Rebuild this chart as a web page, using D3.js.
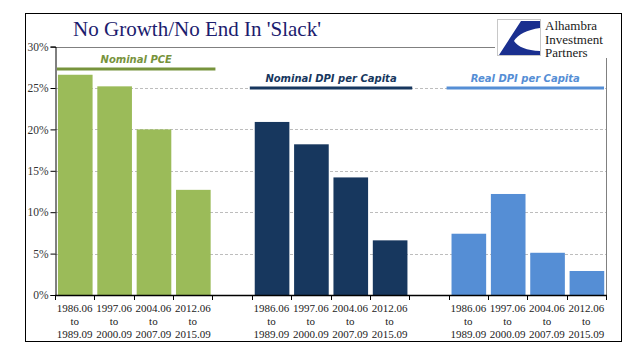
<!DOCTYPE html>
<html><head><meta charset="utf-8">
<script src="https://cdn.jsdelivr.net/npm/d3@7"></script>
<style>body{margin:0;background:#fff}svg{display:block}</style>
</head><body>
<svg id="c" width="641" height="358"></svg>
<script>
// ---- data ----
const categories = ["g1","g2","g3","g4","s1","n1","n2","n3","n4","s2","r1","r2","r3","r4"];
const periodStart = ["1986.06","1997.06","2004.06","2012.06"];
const periodEnd   = ["1989.09","2000.09","2007.09","2015.09"];
const nominalPCE = [26.6, 25.2, 20.0, 12.7];
const nominalDPI = [20.9, 18.2, 14.2, 6.6];
const realDPI    = [7.4, 12.2, 5.1, 2.9];
const seriesNames = ["Nominal PCE","Nominal DPI per Capita","Real DPI per Capita"];
const seriesLabelLevel = [27.3, 25, 25];
const yTicks = [0,5,10,15,20,25,30];
const title = "No Growth/No End In 'Slack'";

const colors = ["#9bbb59","#17375e","#558ed5"];
const labelColors = ["#77933c","#17375e","#558ed5"];
const groups = [
  {cats:["g1","g2","g3","g4"], vals:nominalPCE},
  {cats:["n1","n2","n3","n4"], vals:nominalDPI},
  {cats:["r1","r2","r3","r4"], vals:realDPI}
];

const svg = d3.select("#c");
const L=55, R=606, T=46.6, B=295;
const x = d3.scaleBand().domain(categories).range([L,R]).padding(0);
const y = d3.scaleLinear().domain([0,30]).range([B,T]);
const bw = x.bandwidth();

// outer frame
svg.append("rect").attr("x",25.5).attr("y",13.5).attr("width",596).attr("height",328)
  .attr("fill","none").attr("stroke","#000").attr("stroke-width",1);

// title
svg.append("text").attr("x",197).attr("y",35.5).attr("text-anchor","middle")
  .attr("font-family","Liberation Serif, serif").attr("font-size",21).attr("fill","#1c1c6e")
  .text(title);

// gridlines
svg.append("g").selectAll("line").data(yTicks.filter(d=>d>0&&d<30)).join("line")
  .attr("x1",L).attr("x2",R).attr("y1",d=>Math.round(y(d))+0.5).attr("y2",d=>Math.round(y(d))+0.5)
  .attr("stroke","#bdbdbd").attr("stroke-dasharray","3,2").attr("stroke-width",1);
// top line at 30% (ends before logo)
svg.append("line").attr("x1",L).attr("x2",495).attr("y1",Math.round(y(30))+0.5).attr("y2",Math.round(y(30))+0.5)
  .attr("stroke","#808080").attr("stroke-width",1);
// right plot border
svg.append("line").attr("x1",R+0.5).attr("x2",R+0.5).attr("y1",58).attr("y2",B)
  .attr("stroke","#808080").attr("stroke-width",1);

// bars
groups.forEach((g,i)=>{
  svg.append("g").selectAll("rect").data(g.vals).join("rect")
    .attr("x",(d,j)=>x(g.cats[j])+bw*0.075)
    .attr("width",bw*0.88)
    .attr("y",d=>y(d)).attr("height",d=>B-y(d))
    .attr("fill",colors[i]);
});

// group label lines and text
groups.forEach((g,i)=>{
  const x0 = x(g.cats[0]) + (i===0?2:-2);
  const x1 = x(g.cats[3]) + bw + (i===2? -2: 3);
  const ly = y(seriesLabelLevel[i]);
  svg.append("line").attr("x1",x0).attr("x2",x1).attr("y1",ly).attr("y2",ly)
    .attr("stroke", i===0?"#77933c":colors[i]).attr("stroke-width",3);
  svg.append("text").attr("x",(x0+x1)/2).attr("y",ly-6).attr("text-anchor","middle")
    .attr("font-family","DejaVu Sans, sans-serif").attr("font-style","italic").attr("font-weight","bold")
    .attr("font-size",10).attr("fill",labelColors[i]).text(seriesNames[i]);
});

// y axis
const yAxis = d3.axisLeft(y).tickValues(yTicks).tickSize(5).tickFormat(d=>d+"%");
const ya = svg.append("g").attr("transform",`translate(${L+0.5},0)`).call(yAxis);
ya.select(".domain").attr("stroke","#000");
ya.selectAll(".tick line").attr("stroke","#000");
ya.selectAll(".tick text").attr("x",-7).attr("font-family","Liberation Serif, serif").attr("font-size",11.5).attr("fill","#333");

// x axis line + ticks at band boundaries
svg.append("line").attr("x1",L).attr("x2",R+1).attr("y1",B+0.5).attr("y2",B+0.5).attr("stroke","#000").attr("stroke-width",1.5);
const bounds = categories.map(c=>x(c)).concat([R]);
svg.append("g").selectAll("line").data(bounds).join("line")
  .attr("x1",d=>Math.round(d)+0.5).attr("x2",d=>Math.round(d)+0.5).attr("y1",B).attr("y2",B+5)
  .attr("stroke","#000").attr("stroke-width",1);

// category labels
groups.forEach(g=>{
  g.cats.forEach((c,j)=>{
    const cx = x(c)+bw/2;
    const t = svg.append("text").attr("text-anchor","middle")
      .attr("font-family","Liberation Serif, serif").attr("font-size",11).attr("fill","#222");
    [periodStart[j],"to",periodEnd[j]].forEach((s,k)=>{
      t.append("tspan").attr("x",cx).attr("y",312+k*13).text(s);
    });
  });
});

// logo
const lg = svg.append("g");
lg.append("rect").attr("x",497.5).attr("y",19.5).attr("width",43).attr("height",36)
  .attr("fill","#fff").attr("stroke","#c8c8c8");
lg.append("path").attr("d","M540 21 L521 21 L499 55 L540 55 L540 51 Q520 50 514 41 Q520 31 540 28 Z")
  .attr("fill","#1a2f8f");
["Alhambra","Investment","Partners"].forEach((s,k)=>
  lg.append("text").attr("x",545).attr("y",30+k*13.5)
    .attr("font-family","Liberation Serif, serif").attr("font-size",13).attr("fill","#1a1a1a").text(s));
</script>
</body></html>
